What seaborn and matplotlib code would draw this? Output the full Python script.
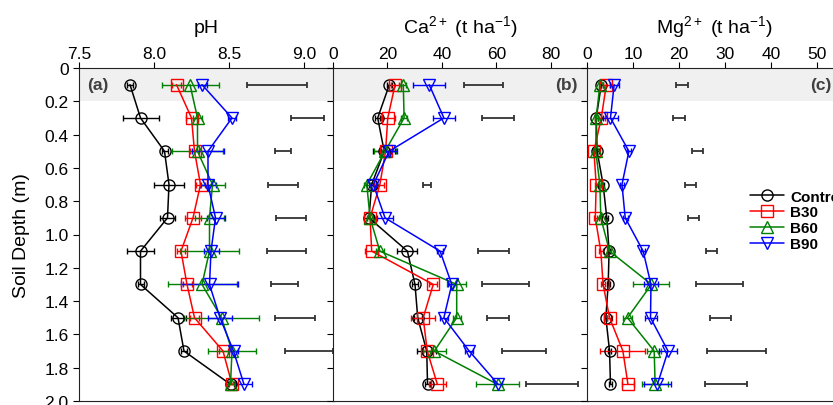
import matplotlib
matplotlib.use("Agg")
import matplotlib.pyplot as plt
import matplotlib.transforms as mtransforms
from matplotlib.lines import Line2D
import numpy as np
import pandas as pd
import seaborn as sns

# soil depth of each layer (m)
depths = [0.1, 0.3, 0.5, 0.7, 0.9, 1.1, 1.3, 1.5, 1.7, 1.9]
treatments = ["Control", "B30", "B60", "B90"]

# pH
ph_control = [7.84, 7.91, 8.07, 8.10, 8.09, 7.91, 7.91, 8.16, 8.20, 8.51]
ph_b30 = [8.15, 8.25, 8.27, 8.31, 8.26, 8.18, 8.22, 8.27, 8.46, 8.52]
ph_b60 = [8.24, 8.29, 8.29, 8.39, 8.37, 8.37, 8.32, 8.45, 8.52, 8.51]
ph_b90 = [8.32, 8.52, 8.36, 8.36, 8.41, 8.38, 8.37, 8.44, 8.53, 8.60]
ph_control_err = [0.02, 0.12, 0.02, 0.10, 0.05, 0.09, 0.02, 0.05, 0.02, 0.02]
ph_b30_err = [0.03, 0.04, 0.03, 0.03, 0.05, 0.03, 0.03, 0.03, 0.03, 0.02]
ph_b60_err = [0.19, 0.03, 0.17, 0.08, 0.10, 0.20, 0.23, 0.25, 0.16, 0.03]
ph_b90_err = [0.03, 0.03, 0.11, 0.05, 0.06, 0.05, 0.19, 0.08, 0.03, 0.05]
ph_lsd = [8.82, 9.02, 8.86, 8.86, 8.91, 8.88, 8.87, 8.94, 9.03, np.nan]
ph_lsd_half = [0.20, 0.11, 0.05, 0.10, 0.10, 0.13, 0.09, 0.13, 0.16, np.nan]

# exchangeable Ca (t/ha)
ca_control = [20.7, 16.4, 18.8, 14.2, 13.2, 27.3, 30.1, 31.1, 34.4, 34.7]
ca_b30 = [22.8, 20.1, 19.3, 17.2, 13.6, 14.2, 36.8, 33.1, 34.6, 38.3]
ca_b60 = [25.8, 26.1, 19.1, 12.4, 13.6, 17.2, 45.4, 45.4, 37.2, 60.4]
ca_b90 = [35.3, 40.7, 20.6, 14.8, 19.1, 39.3, 43.6, 40.7, 50.0, 60.6]
ca_control_err = [1.0, 1.0, 4.0, 1.0, 2.0, 3.7, 1.0, 1.5, 3.5, 1.0]
ca_b30_err = [1.5, 2.5, 1.5, 1.5, 1.0, 2.5, 1.5, 4.4, 1.5, 3.0]
ca_b60_err = [1.0, 1.0, 4.0, 1.0, 1.0, 1.5, 3.4, 1.5, 4.2, 8.0]
ca_b90_err = [5.9, 3.9, 3.0, 1.0, 3.0, 1.0, 1.5, 1.5, 1.5, 1.5]
ca_lsd = [55.2, 60.7, np.nan, 34.6, np.nan, 58.9, 63.3, 60.5, 70.0, 80.5]
ca_lsd_half = [7.1, 5.9, np.nan, 1.4, np.nan, 5.8, 8.7, 4.1, 8.0, 9.5]

# exchangeable Mg (t/ha)
mg_control = [3.1, 2.0, 2.2, 3.5, 4.3, 4.8, 4.6, 4.1, 4.9, 5.1]
mg_b30 = [4.2, 3.1, 1.5, 2.0, 1.8, 3.0, 3.5, 4.9, 7.8, 8.9]
mg_b60 = [2.8, 2.0, 1.9, 2.8, 3.0, 4.9, 14.0, 8.8, 14.6, 14.8]
mg_b90 = [5.9, 5.1, 9.1, 7.6, 8.3, 12.2, 13.9, 13.8, 17.6, 15.3]
mg_control_err = [0.3, 0.3, 0.3, 0.3, 0.3, 0.3, 0.3, 0.3, 0.4, 0.4]
mg_b30_err = [0.8, 0.8, 0.3, 0.3, 0.3, 0.5, 0.5, 0.5, 4.9, 1.3]
mg_b60_err = [0.3, 0.3, 0.3, 0.3, 0.3, 0.3, 3.9, 1.0, 1.5, 2.9]
mg_b90_err = [1.0, 1.7, 0.5, 0.5, 0.5, 0.5, 1.5, 1.3, 2.0, 2.9]
mg_lsd = [20.7, 20.0, 24.0, 22.5, 23.1, 27.0, 28.8, 29.0, 32.5, 30.2]
mg_lsd_half = [1.3, 1.3, 1.2, 1.2, 1.2, 1.15, 5.2, 2.2, 6.45, 4.5]

colors = {"Control": "black", "B30": "#ff0000", "B60": "#008000", "B90": "#0000ff"}
markers = {"Control": "o", "B30": "s", "B60": "^", "B90": "v"}


def long_frame(vals, errs):
    rows = []
    for t, v, e in zip(treatments, vals, errs):
        for d, x, s in zip(depths, v, e):
            rows.append({"treatment": t, "depth": d, "value": x, "err": s})
    return pd.DataFrame(rows)


panels = [
    dict(df=long_frame([ph_control, ph_b30, ph_b60, ph_b90],
                       [ph_control_err, ph_b30_err, ph_b60_err, ph_b90_err]),
         lsd=ph_lsd, lsd_half=ph_lsd_half, title="pH", xlim=(7.5, 9.2),
         xticks=[7.5, 8.0, 8.5, 9.0], tag="(a)"),
    dict(df=long_frame([ca_control, ca_b30, ca_b60, ca_b90],
                       [ca_control_err, ca_b30_err, ca_b60_err, ca_b90_err]),
         lsd=ca_lsd, lsd_half=ca_lsd_half,
         title=r"Ca$\mathregular{^{2+}}$ (t ha$\mathregular{^{-1}}$)",
         xlim=(0, 93.6), xticks=[0, 20, 40, 60, 80], tag="(b)"),
    dict(df=long_frame([mg_control, mg_b30, mg_b60, mg_b90],
                       [mg_control_err, mg_b30_err, mg_b60_err, mg_b90_err]),
         lsd=mg_lsd, lsd_half=mg_lsd_half,
         title=r"Mg$\mathregular{^{2+}}$ (t ha$\mathregular{^{-1}}$)",
         xlim=(0, 55.4), xticks=[0, 10, 20, 30, 40, 50], tag="(c)"),
]

sns.set_style("ticks")
plt.rcParams["font.family"] = ["Liberation Sans", "DejaVu Sans"]
plt.rcParams["mathtext.fontset"] = "custom"
plt.rcParams["mathtext.rm"] = "Liberation Sans"
plt.rcParams["text.color"] = "black"
plt.rcParams["axes.labelcolor"] = "black"

W, H = 833, 406
fig = plt.figure(figsize=(W / 100, H / 100), dpi=100)
lefts = [79, 333, 587]
axes = [fig.add_axes([l / W, 4 / H, 255 / W, 333 / H]) for l in lefts]

for i, (ax, p) in enumerate(zip(axes, panels)):
    df = p["df"]
    ax.axhspan(0, 0.2, color="#f0f0f0", zorder=0, lw=0)
    for t in treatments:
        sub = df[df["treatment"] == t]
        c = colors[t]
        ax.errorbar(sub["value"], sub["depth"], xerr=sub["err"], fmt="none",
                    ecolor=c, elinewidth=1, capsize=2.5, capthick=1, zorder=2)
        sns.lineplot(data=sub, x="value", y="depth", orient="y", ax=ax,
                     color=c, marker=markers[t], markersize=8,
                     markerfacecolor="none", markeredgecolor=c,
                     markeredgewidth=1, lw=1.1, zorder=3)
    ax.errorbar(p["lsd"], depths, xerr=p["lsd_half"], fmt="none",
                ecolor="#333333", elinewidth=1.3, capsize=2.5, capthick=1.3)

    ax.set_xlim(*p["xlim"])
    ax.set_ylim(2.0, 0)
    ax.set_xticks(p["xticks"])
    ax.set_xticklabels([f"{v:.1f}" if i == 0 else f"{v:g}" for v in p["xticks"]])
    ax.set_yticks(np.arange(0, 2.01, 0.2))
    ax.xaxis.tick_top()
    ax.xaxis.set_label_position("top")
    ax.tick_params(axis="both", direction="out", length=4, width=0.8,
                   labelsize=12.5, colors="black")
    ax.tick_params(axis="x", pad=1)
    ax.set_xlabel(p["title"], fontsize=14, labelpad=10)
    for s in ax.spines.values():
        s.set_visible(True)
        s.set_color("#222222")
        s.set_linewidth(0.8)

    trans = mtransforms.blended_transform_factory(ax.transAxes, ax.transData)
    if i == 0:
        ax.text(0.03, 0.1, p["tag"], transform=trans, ha="left", va="center",
                fontsize=12.5, fontweight="bold", color="#404040")
        ax.set_yticklabels(["0"] + [f"{v:.1f}" for v in np.arange(0.2, 2.01, 0.2)])
        ax.set_ylabel("Soil Depth (m)", fontsize=14, labelpad=10)
    else:
        ax.text(0.96, 0.1, p["tag"], transform=trans, ha="right", va="center",
                fontsize=12.5, fontweight="bold", color="#404040")
        ax.set_yticklabels([])
        ax.set_ylabel("")

handles = [Line2D([], [], color=colors[t], marker=markers[t], markersize=8,
                  markerfacecolor="none", markeredgecolor=colors[t],
                  markeredgewidth=1, lw=1.1) for t in treatments]
leg = axes[2].legend(handles, treatments, loc="upper left",
                     bbox_to_anchor=(0.64, 0.635), frameon=False,
                     borderpad=0, borderaxespad=0, handlelength=2.2,
                     handletextpad=0.4, labelspacing=0.12,
                     prop={"weight": "bold", "size": 11})

fig.savefig("out.png", dpi=100)
